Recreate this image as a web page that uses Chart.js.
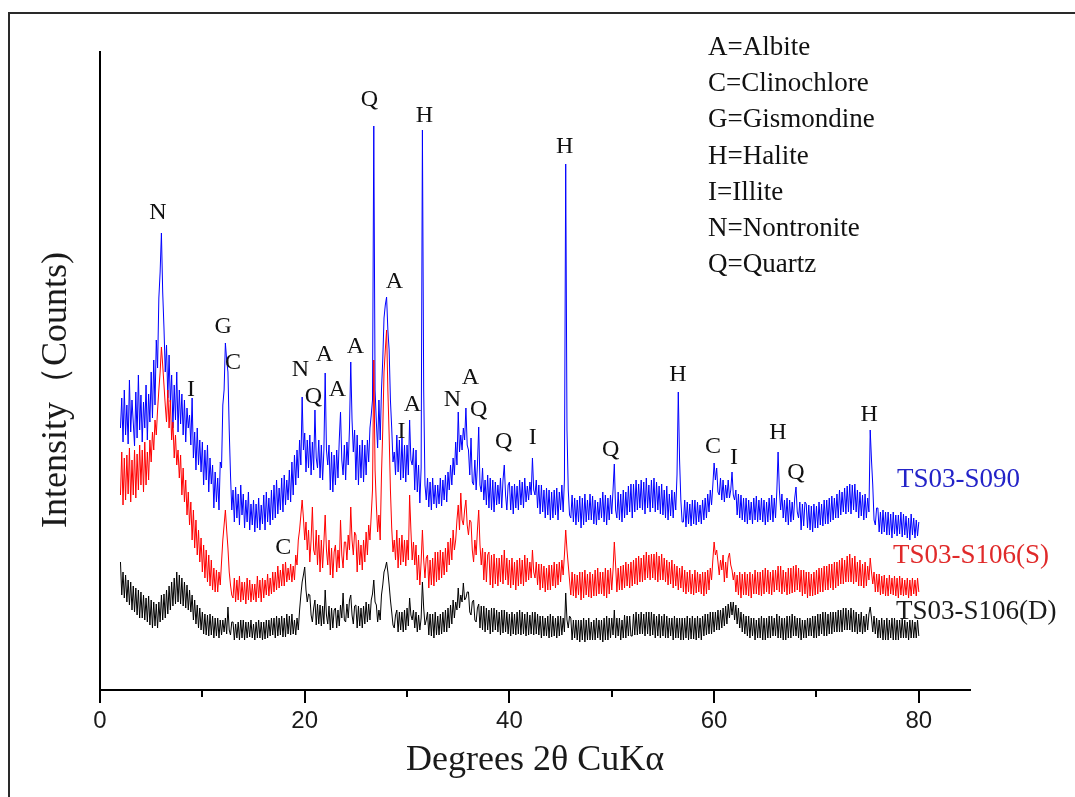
<!DOCTYPE html>
<html>
<head>
<meta charset="utf-8">
<script src="https://cdn.jsdelivr.net/npm/chart.js@4.4.1/dist/chart.umd.min.js"></script>
<style>
    html, body { margin: 0; padding: 0; background: #fff; }
    #wrap { width: 1075px; height: 797px; }
</style>
</head>
<body>
<div id="wrap"><canvas id="xrd" width="1075" height="797"></canvas></div>
<script>
// scan settings: 2θ from 2° to 80°, 0.125° per reading
const THETA_START = 2;
const THETA_STEP = 0.125;

// intensities (arbitrary units), one line = 1 degree
const s090 = [
    262, 292, 248, 300, 255, 285, 246, 310,
    258, 290, 268, 244, 298, 252, 315, 260,
    295, 248, 288, 262, 305, 250, 296, 268,
    318, 272, 330, 285, 350, 322, 392, 418,
    457, 398, 362, 318, 345, 292, 335, 288,
    315, 262, 305, 270, 318, 258, 300, 266,
    296, 255, 290, 248, 282, 262, 275, 245,
    292, 232, 258, 220, 262, 225, 250, 218,
    248, 205, 240, 210, 245, 198, 232, 206,
    225, 182, 218, 188, 212, 180, 228, 222,
    285, 300, 347, 330, 318, 260, 215, 180,
    200, 168, 203, 172, 196, 165, 205, 175,
    196, 162, 190, 168, 198, 160, 186, 165,
    190, 158, 186, 162, 192, 160, 185, 166,
    195, 160, 198, 168, 192, 165, 200, 170,
    205, 172, 210, 176, 202, 180, 212, 178,
    215, 185, 210, 190, 220, 188, 228, 195,
    235, 205, 240, 212, 250, 225, 293, 240,
    257, 218, 250, 222, 255, 215, 248, 220,
    280, 232, 222, 250, 212, 245, 210, 240,
    317, 240, 225, 245, 200, 238, 198, 235,
    205, 240, 212, 250, 278, 230, 215, 245,
    210, 248, 225, 262, 328, 270, 238, 260,
    210, 255, 205, 245, 212, 250, 208, 245,
    215, 250, 228, 262, 275, 290, 564, 300,
    268, 242, 290, 250, 300, 330, 372, 385,
    393, 360, 340, 290, 262, 228, 238, 215,
    255, 218, 250, 210, 252, 212, 245, 208,
    245, 215, 270, 230, 225, 242, 200, 240,
    198, 225, 187, 222, 560, 300, 205, 190,
    212, 183, 208, 180, 212, 186, 205, 182,
    205, 186, 212, 184, 210, 190, 215, 188,
    218, 200, 225, 205, 232, 215, 248, 225,
    278, 238, 255, 240, 262, 250, 282, 245,
    240, 215, 252, 208, 205, 230, 200, 225,
    263, 205, 198, 222, 190, 210, 185, 215,
    182, 212, 180, 210, 178, 208, 185, 205,
    186, 212, 182, 210, 225, 195, 180, 205,
    208, 180, 204, 176, 206, 182, 204, 180,
    210, 185, 208, 182, 212, 188, 204, 190,
    208, 195, 232, 200, 195, 210, 182, 205,
    176, 205, 178, 200, 172, 202, 175, 200,
    170, 198, 172, 200, 175, 202, 170, 198,
    180, 205, 178, 210, 526, 260, 200, 175,
    172, 195, 168, 192, 165, 190, 168, 194,
    162, 192, 165, 196, 168, 190, 170, 196,
    170, 194, 166, 190, 165, 188, 170, 192,
    172, 198, 168, 195, 165, 192, 170, 195,
    176, 200, 226, 180, 172, 198, 170, 196,
    168, 200, 172, 198, 175, 204, 178, 206,
    172, 206, 178, 210, 180, 206, 182, 210,
    180, 208, 176, 212, 182, 205, 178, 210,
    182, 212, 178, 208, 180, 204, 176, 206,
    175, 200, 172, 204, 170, 196, 174, 200,
    172, 198, 180, 215, 298, 230, 190, 168,
    168, 190, 163, 188, 166, 186, 164, 190,
    166, 190, 165, 188, 168, 185, 166, 190,
    170, 192, 172, 196, 178, 200, 185, 205,
    227, 210, 222, 198, 195, 212, 190, 210,
    188, 205, 192, 210, 192, 200, 218, 195,
    190, 200, 175, 196, 172, 195, 170, 192,
    168, 192, 166, 190, 170, 188, 166, 192,
    170, 194, 168, 190, 170, 192, 168, 190,
    165, 188, 168, 192, 170, 195, 168, 192,
    172, 198, 238, 200, 180, 196, 172, 190,
    168, 192, 165, 190, 168, 188, 170, 192,
    203, 178, 172, 188, 160, 186, 164, 188,
    186, 162, 185, 160, 184, 158, 186, 162,
    184, 162, 188, 165, 186, 164, 190, 166,
    190, 166, 192, 168, 194, 170, 192, 172,
    196, 172, 200, 175, 198, 178, 202, 176,
    204, 178, 206, 176, 205, 180, 206, 178,
    200, 172, 198, 174, 195, 170, 196, 172,
    192, 178, 260, 230, 205, 170, 165, 182,
    182, 158, 178, 156, 180, 158, 178, 155,
    178, 155, 176, 152, 178, 156, 175, 154,
    175, 156, 178, 153, 176, 155, 174, 152,
    172, 150, 176, 155, 172, 152, 170, 154,
    168
];

const s106S = [
    195, 238, 185, 232, 190, 235, 196, 242,
    188, 230, 195, 240, 192, 236, 200, 245,
    205, 240, 198, 248, 205, 238, 210, 250,
    228, 258, 240, 270, 255, 280, 300, 318,
    343, 325, 305, 285, 268, 300, 262, 290,
    250, 268, 232, 255, 225, 240, 212, 235,
    195, 222, 188, 210, 175, 198, 165, 188,
    150, 180, 142, 170, 135, 160, 128, 152,
    118, 145, 112, 140, 108, 135, 104, 130,
    100, 122, 98, 120, 98, 118, 105, 128,
    150, 165, 180, 160, 142, 118, 105, 95,
    92, 112, 88, 110, 90, 114, 88, 108,
    90, 108, 86, 112, 90, 110, 88, 106,
    90, 106, 88, 114, 92, 110, 88, 112,
    92, 110, 95, 116, 94, 112, 96, 118,
    98, 118, 100, 124, 102, 120, 104, 126,
    104, 128, 108, 122, 110, 126, 108, 124,
    110, 135, 125, 150, 160, 175, 190, 172,
    150, 168, 140, 160, 128, 150, 183, 140,
    135, 160, 125, 155, 118, 150, 122, 148,
    175, 140, 125, 150, 115, 142, 112, 138,
    145, 118, 140, 122, 170, 135, 122, 148,
    148, 130, 155, 140, 183, 150, 135, 158,
    155, 118, 150, 125, 145, 120, 150, 128,
    158, 135, 165, 150, 175, 200, 330, 220,
    185, 158, 175, 150, 215, 260, 318, 340,
    360, 300, 255, 200, 162, 138, 150, 130,
    160, 122, 152, 125, 155, 128, 150, 124,
    150, 130, 195, 160, 130, 148, 125, 145,
    110, 135, 105, 128, 160, 130, 112, 132,
    135, 102, 130, 105, 132, 104, 138, 108,
    138, 110, 140, 112, 138, 115, 142, 118,
    148, 125, 152, 130, 160, 140, 150, 170,
    185, 160, 197, 170, 165, 180, 190, 165,
    155, 170, 168, 140, 128, 150, 135, 160,
    180, 145, 125, 142, 110, 138, 108, 135,
    138, 105, 135, 102, 136, 106, 132, 104,
    132, 108, 135, 106, 140, 110, 132, 105,
    130, 102, 132, 105, 128, 100, 130, 104,
    132, 106, 130, 104, 135, 108, 132, 110,
    128, 112, 140, 118, 112, 128, 105, 126,
    100, 126, 102, 124, 98, 122, 100, 125,
    100, 125, 104, 128, 102, 126, 105, 128,
    108, 130, 115, 135, 160, 140, 125, 110,
    95, 118, 94, 116, 92, 115, 95, 118,
    90, 118, 92, 120, 95, 116, 93, 118,
    92, 116, 94, 120, 94, 122, 96, 118,
    96, 118, 94, 122, 92, 120, 96, 122,
    100, 120, 148, 125, 98, 122, 100, 124,
    100, 125, 102, 128, 104, 126, 102, 128,
    104, 130, 106, 132, 105, 134, 108, 132,
    108, 135, 110, 138, 112, 135, 110, 136,
    112, 136, 110, 138, 108, 134, 110, 136,
    110, 132, 108, 130, 105, 128, 106, 130,
    102, 126, 104, 124, 100, 122, 102, 124,
    98, 120, 96, 118, 98, 120, 96, 116,
    95, 120, 97, 118, 98, 116, 96, 118,
    94, 118, 96, 120, 100, 122, 110, 130,
    148, 135, 140, 128, 115, 130, 120, 135,
    108, 128, 112, 132, 137, 125, 120, 110,
    118, 98, 115, 95, 118, 92, 116, 95,
    118, 95, 116, 94, 118, 92, 116, 96,
    120, 96, 118, 95, 118, 94, 120, 96,
    122, 98, 120, 96, 118, 95, 120, 98,
    120, 100, 124, 98, 124, 96, 120, 98,
    118, 95, 122, 96, 122, 97, 124, 98,
    125, 100, 122, 98, 120, 94, 120, 96,
    118, 92, 118, 94, 116, 94, 118, 95,
    120, 96, 122, 98, 122, 98, 124, 100,
    124, 100, 126, 102, 126, 100, 128, 102,
    128, 104, 130, 106, 132, 106, 130, 108,
    134, 108, 136, 108, 132, 106, 134, 108,
    128, 104, 130, 104, 126, 102, 128, 104,
    124, 110, 132, 118, 106, 118, 98, 116,
    98, 116, 95, 114, 96, 115, 94, 112,
    94, 115, 96, 112, 95, 114, 94, 112,
    92, 114, 95, 112, 94, 110, 95, 112,
    92, 110, 94, 112, 96, 110, 94, 112,
    98
];

const s106D = [
    128, 95, 118, 92, 115, 88, 110, 85,
    108, 80, 104, 78, 102, 75, 100, 72,
    98, 72, 95, 70, 92, 68, 94, 65,
    90, 62, 88, 64, 86, 62, 88, 68,
    95, 70, 96, 72, 100, 76, 104, 80,
    108, 84, 112, 86, 118, 88, 115, 86,
    112, 84, 108, 82, 105, 80, 100, 78,
    95, 70, 90, 66, 85, 62, 82, 60,
    78, 56, 76, 55, 75, 54, 76, 55,
    74, 52, 72, 54, 72, 52, 70, 55,
    70, 58, 72, 56, 83, 60, 55, 68,
    68, 50, 66, 52, 68, 50, 70, 52,
    70, 50, 68, 52, 68, 53, 70, 52,
    66, 50, 68, 52, 70, 52, 68, 50,
    68, 51, 70, 52, 70, 54, 72, 55,
    72, 52, 74, 54, 72, 55, 74, 53,
    72, 53, 76, 56, 74, 55, 76, 56,
    70, 55, 72, 60, 80, 95, 108, 115,
    123, 100, 88, 96, 95, 75, 68, 82,
    90, 65, 86, 66, 85, 64, 84, 66,
    100, 75, 66, 84, 60, 82, 62, 80,
    82, 62, 80, 64, 85, 72, 97, 70,
    68, 86, 72, 90, 95, 75, 66, 84,
    85, 62, 84, 64, 82, 62, 84, 66,
    88, 68, 86, 70, 90, 96, 110, 88,
    85, 68, 80, 70, 95, 105, 118, 122,
    128, 118, 105, 90, 78, 65, 62, 75,
    80, 58, 78, 60, 78, 58, 80, 60,
    82, 64, 92, 75, 70, 80, 62, 78,
    58, 75, 60, 72, 108, 82, 65, 70,
    78, 55, 76, 54, 76, 52, 78, 55,
    74, 55, 76, 56, 78, 58, 80, 58,
    82, 62, 85, 66, 90, 72, 88, 80,
    102, 82, 95, 88, 107, 90, 92, 98,
    98, 78, 75, 88, 90, 70, 68, 82,
    86, 62, 84, 60, 84, 58, 82, 60,
    80, 56, 82, 58, 82, 60, 80, 58,
    78, 55, 80, 57, 80, 58, 78, 56,
    76, 54, 78, 56, 76, 55, 78, 56,
    80, 55, 78, 56, 76, 54, 78, 55,
    75, 56, 78, 55, 78, 56, 76, 55,
    74, 52, 74, 54, 72, 54, 74, 52,
    76, 53, 74, 54, 72, 52, 74, 54,
    74, 55, 72, 58, 97, 70, 62, 74,
    72, 50, 70, 52, 70, 50, 70, 48,
    70, 50, 72, 48, 70, 50, 72, 50,
    68, 50, 70, 50, 72, 52, 70, 50,
    70, 48, 72, 50, 74, 50, 72, 52,
    72, 55, 80, 52, 72, 54, 72, 50,
    70, 52, 75, 52, 74, 54, 74, 54,
    54, 76, 55, 78, 55, 76, 56, 78,
    56, 76, 54, 78, 56, 78, 54, 78,
    55, 76, 52, 74, 54, 76, 52, 74,
    54, 76, 52, 74, 52, 72, 54, 72,
    50, 74, 52, 72, 52, 72, 50, 72,
    50, 72, 52, 74, 50, 72, 51, 74,
    51, 72, 50, 74, 52, 72, 50, 74,
    54, 76, 55, 76, 56, 78, 56, 78,
    58, 78, 60, 80, 60, 80, 62, 82,
    64, 84, 66, 86, 72, 88, 75, 88,
    70, 85, 66, 82, 62, 78, 58, 76,
    56, 74, 54, 74, 52, 72, 54, 72,
    50, 70, 52, 72, 52, 74, 50, 72,
    50, 72, 52, 74, 52, 74, 54, 72,
    54, 76, 52, 74, 52, 72, 50, 72,
    50, 74, 52, 74, 52, 76, 54, 74,
    54, 72, 52, 72, 50, 70, 52, 70,
    52, 72, 54, 72, 54, 74, 52, 74,
    52, 76, 54, 76, 56, 78, 54, 78,
    54, 76, 56, 78, 56, 78, 58, 78,
    58, 80, 58, 80, 58, 82, 60, 82,
    60, 80, 60, 82, 58, 80, 58, 78,
    56, 76, 58, 78, 56, 74, 58, 76,
    60, 76, 83, 72, 58, 74, 56, 72,
    52, 70, 52, 72, 50, 70, 50, 72,
    50, 70, 52, 72, 50, 72, 50, 70,
    50, 70, 52, 72, 52, 70, 52, 68,
    50, 70, 52, 70, 52, 68, 52, 70,
    54
];

// x axis ticks
const majorTicks = [0, 20, 40, 60, 80];
const minorTicks = [10, 30, 50, 70];

// phase letters over the peaks (2θ, intensity where the letter sits)
const peakTag   = ['N', 'I', 'G', 'C', 'N', 'Q', 'A', 'A', 'A', 'Q', 'A', 'I', 'A', 'H', 'N', 'A', 'Q', 'Q', 'I', 'H', 'Q', 'H', 'C', 'I', 'H', 'Q', 'H', 'C'];
const peakTheta = [5.67, 8.9, 12.04, 13.0, 19.57, 20.84, 21.92, 23.19, 24.95, 26.32, 28.77, 29.45, 30.53, 31.7, 34.44, 36.2, 36.99, 39.43, 42.27, 45.4, 49.9, 56.46, 59.88, 61.94, 66.24, 68.0, 75.15, 17.9];
const peakLevel = [477, 300, 363, 327, 320, 293, 335, 300, 343, 590, 408, 258, 285, 574, 290, 312, 280, 248, 252, 543, 240, 315, 243, 232, 257, 217, 275, 142];

const phaseKey = ['A=Albite', 'C=Clinochlore', 'G=Gismondine', 'H=Halite', 'I=Illite', 'N=Nontronite', 'Q=Quartz'];

const sampleNames = ['TS03-S090', 'TS03-S106(S)', 'TS03-S106(D)'];
const sampleColors = ['#0000ff', '#ff0000', '#000000'];
const sampleTextColors = ['#2323c8', '#e02a2a', '#1a1a1a'];

const theta = s090.map(function (_, i) { return THETA_START + i * THETA_STEP; });

function toPoints(values) {
    return values.map(function (v, i) { return { x: theta[i], y: v }; });
}

const SERIF = '"Liberation Serif", "Times New Roman", serif';
const SANS = '"Liberation Sans", Arial, sans-serif';

const xrdDecor = {
    id: 'xrdDecor',
    beforeDraw: function (chart) {
        const ctx = chart.ctx;
        ctx.save();
        ctx.fillStyle = '#fff';
        ctx.fillRect(0, 0, chart.width, chart.height);
        ctx.restore();
    },
    afterDraw: function (chart) {
        const ctx = chart.ctx;
        const xs = chart.scales.x;
        const ys = chart.scales.y;
        const area = chart.chartArea;
        ctx.save();

        // cropped figure frame (top and left edges only)
        ctx.strokeStyle = '#2a2a2a';
        ctx.lineWidth = 2;
        ctx.beginPath();
        ctx.moveTo(1075, 13);
        ctx.lineTo(9, 13);
        ctx.lineTo(9, 797);
        ctx.stroke();

        // minor ticks
        ctx.strokeStyle = '#000';
        ctx.lineWidth = 2;
        minorTicks.forEach(function (v) {
            const px = Math.round(xs.getPixelForValue(v));
            ctx.beginPath();
            ctx.moveTo(px, area.bottom);
            ctx.lineTo(px, area.bottom + 7);
            ctx.stroke();
        });

        // y title
        ctx.fillStyle = '#1a1a1a';
        ctx.font = '36px ' + SERIF;
        ctx.textAlign = 'center';
        ctx.textBaseline = 'middle';
        ctx.translate(57, 390);
        ctx.rotate(-Math.PI / 2);
        ctx.fillText('Intensity（Counts)', 0, 0);
        ctx.setTransform(1, 0, 0, 1, 0, 0);

        // peak letters
        ctx.font = '24px ' + SERIF;
        ctx.fillStyle = '#111';
        peakTag.forEach(function (t, i) {
            ctx.fillText(t, xs.getPixelForValue(peakTheta[i]), ys.getPixelForValue(peakLevel[i]));
        });

        // phase key
        ctx.font = '27px ' + SERIF;
        ctx.textAlign = 'left';
        phaseKey.forEach(function (t, i) {
            ctx.fillText(t, 708, 48 + i * 36.2);
        });

        // sample names
        const nameX = [897, 893, 896];
        const nameY = [480, 556, 612];
        sampleNames.forEach(function (t, i) {
            ctx.fillStyle = sampleTextColors[i];
            ctx.fillText(t, nameX[i], nameY[i]);
        });

        ctx.restore();
    }
};

new Chart(document.getElementById('xrd'), {
    type: 'line',
    data: {
        datasets: [
            { label: sampleNames[2], data: toPoints(s106D), borderColor: sampleColors[2], order: 1 },
            { label: sampleNames[1], data: toPoints(s106S), borderColor: sampleColors[1], order: 2 },
            { label: sampleNames[0], data: toPoints(s090), borderColor: sampleColors[0], order: 3 }
        ]
    },
    options: {
        responsive: false,
        animation: false,
        devicePixelRatio: 1,
        layout: { padding: { left: 100, top: 52, right: 105, bottom: 0 } },
        elements: {
            point: { radius: 0 },
            line: { borderWidth: 1, tension: 0, fill: false }
        },
        plugins: {
            legend: { display: false },
            tooltip: { enabled: false }
        },
        scales: {
            x: {
                type: 'linear',
                min: 0,
                max: 85,
                afterFit: function (s) { s.height = 107; },
                afterBuildTicks: function (s) {
                    s.ticks = majorTicks.map(function (v) { return { value: v }; });
                },
                ticks: {
                    includeBounds: false,
                    maxRotation: 0,
                    color: '#1a1a1a',
                    padding: 4,
                    font: { family: SANS, size: 24 }
                },
                grid: {
                    display: true,
                    drawOnChartArea: false,
                    drawTicks: true,
                    tickLength: 13,
                    color: '#000',
                    lineWidth: 2
                },
                border: { display: true, color: '#000', width: 2 },
                title: {
                    display: true,
                    text: 'Degrees 2θ CuKα',
                    color: '#1a1a1a',
                    font: { family: SERIF, size: 36 },
                    padding: { top: 0, bottom: 15 }
                }
            },
            y: {
                min: 0,
                max: 638,
                afterFit: function (s) { s.width = 0; },
                ticks: { display: false },
                grid: { display: false, drawTicks: false },
                border: { display: true, color: '#000', width: 2 }
            }
        }
    },
    plugins: [xrdDecor]
});
</script>
</body>
</html>
